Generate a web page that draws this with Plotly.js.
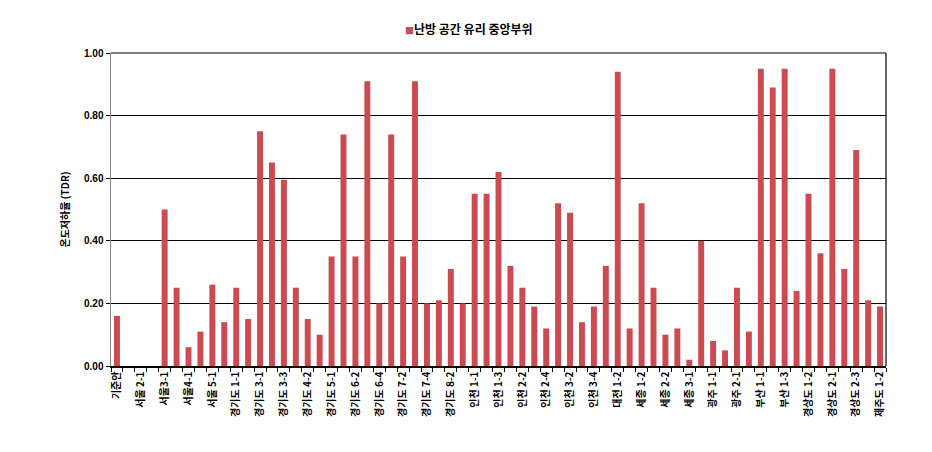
<!DOCTYPE html>
<html>
<head>
<meta charset="utf-8">
<script src="https://cdn.plot.ly/plotly-3.0.1.min.js"></script>
<style>html,body{margin:0;padding:0;background:#fff;}#chart{width:932px;height:452px;}</style>
</head>
<body>
<div id="chart"></div>
<script>
const seriesName = '난방 공간 유리 중앙부위';
const categories = [
  '기준안','서울 1-1','서울 2-1','서울 2-2','서울3-1','서울 3-2','서울4-1','서울 4-2','서울 5-1','서울 5-2',
  '경기도 1-1','경기도 2-1','경기도 3-1','경기도 3-2','경기도 3-3','경기도 4-1','경기도 4-2','경기도 4-3','경기도 5-1','경기도 6-1',
  '경기도 6-2','경기도 6-3','경기도 6-4','경기도 7-1','경기도 7-2','경기도 7-3','경기도 7-4','경기도 8-1','경기도 8-2','경기도 8-3',
  '인천 1-1','인천 1-2','인천 1-3','인천 2-1','인천 2-2','인천 2-3','인천 2-4','인천 3-1','인천 3-2','인천 3-3',
  '인천 3-4','대전 1-1','대전 1-2','세종 1-1','세종 1-2','세종 2-1','세종 2-2','세종 2-3','세종 3-1','세종 3-2',
  '광주 1-1','광주 1-2','광주 2-1','광주 2-2','부산 1-1','부산 1-2','부산 1-3','경상도 1-1','경상도 1-2','경상도 1-3',
  '경상도 2-1','경상도 2-2','경상도 2-3','제주도 1-1','제주도 1-2'
];
const values = [
  0.16,0,0,0,0.50,0.25,0.06,0.11,0.26,0.14,
  0.25,0.15,0.75,0.65,0.595,0.25,0.15,0.10,0.35,0.74,
  0.35,0.91,0.20,0.74,0.35,0.91,0.20,0.21,0.31,0.20,
  0.55,0.55,0.62,0.32,0.25,0.19,0.12,0.52,0.49,0.14,
  0.19,0.32,0.94,0.12,0.52,0.25,0.10,0.12,0.02,0.40,
  0.08,0.05,0.25,0.11,0.95,0.89,0.95,0.24,0.55,0.36,
  0.95,0.31,0.69,0.21,0.19
];
const yTicks = [0, 0.2, 0.4, 0.6, 0.8, 1.0];
const yTickLabels = ['0.00','0.20','0.40','0.60','0.80','1.00'];
const tickText = categories.map((c, i) => (i % 2 === 0 ? c : ''));
const barColor = '#CB4B52';

const font = {family: '"Noto Sans CJK KR", "Liberation Sans", sans-serif', size: 10, color: '#000', weight: 'bold'};

Plotly.newPlot('chart', [{
  type: 'bar',
  name: seriesName,
  x: categories,
  y: values,
  marker: {color: barColor},
  showlegend: false
}], {
  width: 932, height: 452,
  margin: {l: 111, r: 46, t: 53, b: 86},
  paper_bgcolor: '#fff', plot_bgcolor: '#fff',
  font: font,
  bargap: 0.5,
  showlegend: false,
  annotations: [{
    xref: 'paper', yref: 'paper', x: 0.462, y: 1.0, xanchor: 'center', yanchor: 'bottom', yshift: 14,
    showarrow: false,
    text: '<span style="color:#C0505C; font-size:9px">■</span>' + seriesName,
    font: {family: font.family, size: 12, weight: 'bold', color: '#000'}
  }],
  xaxis: {
    type: 'category',
    tickmode: 'array', tickvals: categories, ticktext: tickText,
    tickangle: -90, tickson: 'boundaries',
    ticks: 'outside', ticklen: 4, tickcolor: '#000',
    showline: true, linecolor: '#000', linewidth: 1.5,
    mirror: false, showgrid: false,
    tickfont: {family: font.family, size: 10, weight: 'bold', color: '#000'},
    range: [-0.5, categories.length - 0.5]
  },
  yaxis: {
    range: [0, 1.0],
    tickmode: 'array', tickvals: yTicks, ticktext: yTickLabels,
    ticks: 'outside', ticklen: 4, tickcolor: '#000',
    showgrid: true, gridcolor: '#000', gridwidth: 1,
    showline: true, linecolor: '#888', linewidth: 1.5, mirror: false,
    zeroline: false,
    tickfont: {family: '"Liberation Sans", Arial, sans-serif', size: 10, weight: 'bold', color: '#000'},
    title: {text: '온도저하율 (TDR)', font: {family: font.family, size: 10, weight: 'bold', color: '#000'}, standoff: 12}
  },
  shapes: [
    {type: 'line', xref: 'paper', yref: 'paper', x0: 1, x1: 1, y0: 0, y1: 1, line: {color: '#000', width: 1.2}},
    {type: 'line', xref: 'paper', yref: 'paper', x0: 0, x1: 1, y0: 1, y1: 1, line: {color: '#000', width: 1.2}}
  ]
}, {displayModeBar: false, staticPlot: true});
</script>
</body>
</html>
